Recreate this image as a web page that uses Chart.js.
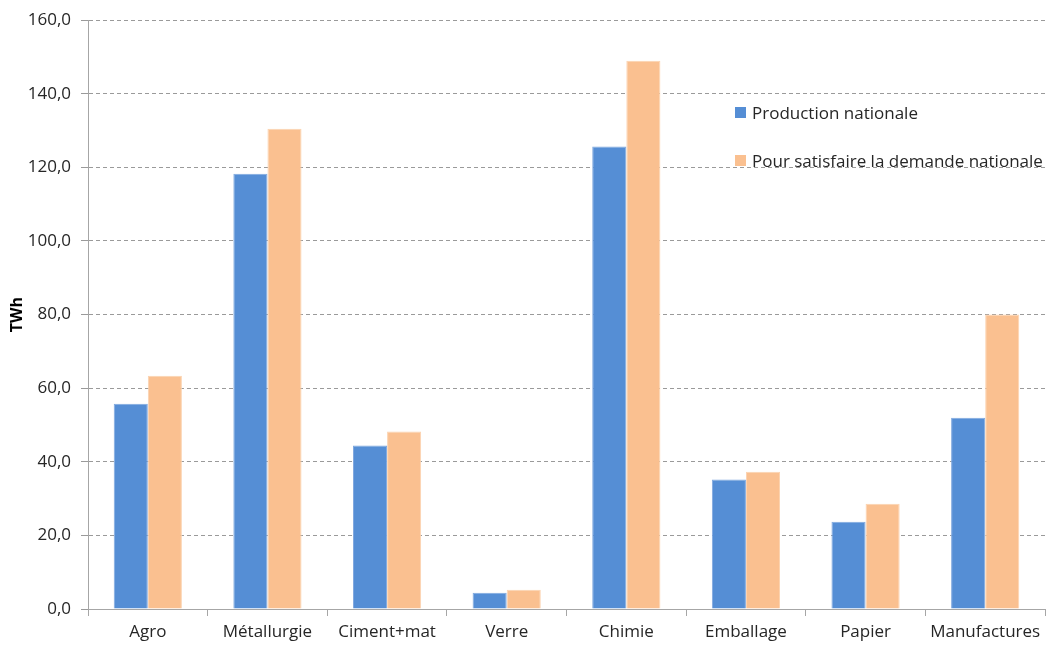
<!DOCTYPE html>
<html lang="fr">
<head>
  <meta charset="UTF-8">
  <title>Consommation d'énergie par secteur</title>
  <script src="https://cdn.jsdelivr.net/npm/chart.js"></script>
  <style>
    html, body { margin: 0; padding: 0; background: #fff; }
    #wrap { position: relative; width: 1049px; height: 646px; font-family: "Open Sans", sans-serif; }
    #legend { position: absolute; left: 735px; top: 99px; font-size: 17px; color: #262626; }
    #legend div { display: flex; align-items: center; height: 26px; margin-bottom: 22px; white-space: nowrap; }
    #legend span.box { width: 11px; height: 11px; margin-right: 6px; display: inline-block; }
  </style>
</head>
<body>
  <div id="wrap">
    <canvas id="chart" width="1049" height="646"></canvas>
    <div id="legend"></div>
  </div>

  <script>
    const categories = ["Agro", "Métallurgie", "Ciment+mat", "Verre", "Chimie", "Emballage", "Papier", "Manufactures"];
    const production = [55.8, 118.3, 44.4, 4.4, 125.7, 35.2, 23.7, 52.0];
    const demande = [63.4, 130.5, 48.2, 5.2, 149.0, 37.3, 28.6, 80.0];
    const seriesNames = ["Production nationale", "Pour satisfaire la demande nationale"];
    const seriesColors = ["#558ED5", "#FAC090"];

    const grey = "#A6A6A6";
    const textColor = "#262626";

    const chart = new Chart(document.getElementById("chart"), {
      type: 'bar',
      data: {
        labels: categories,
        datasets: [
          { label: seriesNames[0], data: production, backgroundColor: seriesColors[0], borderColor: "#7FA8DE", borderWidth: 1 },
          { label: seriesNames[1], data: demande, backgroundColor: seriesColors[1], borderColor: "#FCD3B0", borderWidth: 1 }
        ]
      },
      options: {
        responsive: false,
        animation: false,
        categoryPercentage: 0.57,
        barPercentage: 1.0,
        layout: { padding: { top: 20, right: 4, left: 0, bottom: 0 } },
        plugins: { legend: { display: false }, tooltip: { enabled: false } },
        scales: {
          x: {
            grid: { drawOnChartArea: false, drawTicks: true, tickLength: 7, color: grey, offset: true },
            border: { display: true, color: grey, width: 1 },
            ticks: { color: textColor, font: { family: "Open Sans", size: 17 }, padding: 6 },
            afterFit: s => { s.height = 37; }
          },
          y: {
            min: 0,
            max: 160,
            ticks: {
              stepSize: 20,
              color: textColor,
              font: { family: "Open Sans", size: 17 },
              padding: 10,
              callback: v => v.toFixed(1).replace('.', ',')
            },
            grid: { color: "#9A9A9A", tickLength: 7 },
            border: { display: true, color: grey, width: 1, dash: [4, 3] },
            title: { display: true, text: "TWh", color: "#000", font: { family: "Open Sans", size: 16, weight: "bold" }, padding: { top: 8, bottom: 0 } },
            afterFit: s => { s.width = 88; }
          }
        }
      }
    });

    // legend placed inside the plot area like the original
    const legend = document.getElementById("legend");
    seriesNames.forEach((name, i) => {
      const row = document.createElement("div");
      const box = document.createElement("span");
      box.className = "box";
      box.style.background = seriesColors[i];
      row.appendChild(box);
      row.appendChild(document.createTextNode(name));
      legend.appendChild(row);
    });
  </script>
</body>
</html>
